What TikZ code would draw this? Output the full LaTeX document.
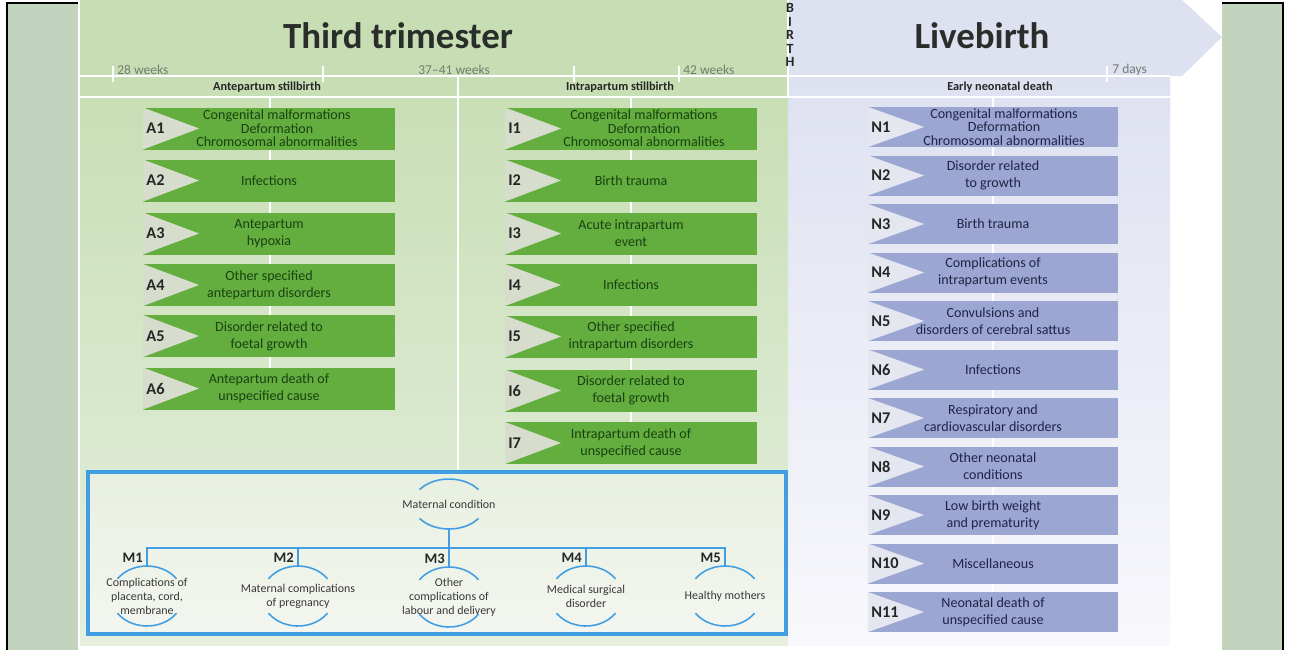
\documentclass[tikz,border=0pt]{standalone}
\usepackage{fontspec}
\setmainfont{Carlito}
\usetikzlibrary{calc}
\definecolor{sidepanel}{RGB}{194,211,190}
\definecolor{greenhead}{RGB}{199,222,180}
\definecolor{greenlow}{RGB}{230,239,222}
\definecolor{lavhead}{RGB}{222,225,240}
\definecolor{lavlow}{RGB}{248,248,252}
\definecolor{boxgreen}{RGB}{99,174,62}
\definecolor{trigreen}{RGB}{214,221,205}
\definecolor{txtgreen}{RGB}{26,66,18}
\definecolor{boxblue}{RGB}{156,166,210}
\definecolor{triblue}{RGB}{228,230,240}
\definecolor{txtblue}{RGB}{32,37,70}
\definecolor{frameblue}{RGB}{66,158,226}
\definecolor{greytxt}{RGB}{115,125,112}
\definecolor{titletxt}{RGB}{42,46,42}
\definecolor{mboxtop}{RGB}{232,240,225}
\definecolor{mboxlow}{RGB}{243,246,240}

% #1 name, #2 kind (g/n), #3 x, #4 y, #5 label, #6 text, #7 leading, #8 text x offset
\newcommand{\causebox}[8]{%
  \node[#2box] (#1) at (#3,#4) {};
  \fill[#2tri] (#1.north west) -- ($(#1.west)+(56,0)$) -- (#1.south west) -- cycle;
  \node[#2text, font=\fontsize{8}{#7}\selectfont] (#1t) at ($(#1.center)+(#8,0)$) {#6};
  \node[boxlab] (#1l) at ($(#1.west)+(3,0)$) {#5};
}
\newcommand{\ovarcs}[3]{%
  \draw[arcline] (#1.center) ++(35:#2 and #3) arc[start angle=35,end angle=145,x radius=#2,y radius=#3];
  \draw[arcline] (#1.center) ++(215:#2 and #3) arc[start angle=215,end angle=325,x radius=#2,y radius=#3];
}

\begin{document}
\begin{tikzpicture}[x=0.02cm,y=-0.02cm,
  gbox/.style={fill=boxgreen, minimum width=5.04cm, minimum height=0.84cm, inner sep=0pt, outer sep=0pt},
  nbox/.style={fill=boxblue, minimum width=5cm, minimum height=0.8cm, inner sep=0pt, outer sep=0pt},
  gtri/.style={fill=trigreen},
  ntri/.style={fill=triblue},
  gtext/.style={text=txtgreen, align=center, inner sep=0pt},
  ntext/.style={text=txtblue, align=center, inner sep=0pt},
  boxlab/.style={anchor=west, font=\bfseries\fontsize{9.3}{10}\selectfont, text=black!85, inner sep=0pt},
  whiteline/.style={draw=white, line width=1.2pt},
  tick/.style={draw=white, line width=1.2pt},
  weeks/.style={anchor=west, text=greytxt, font=\fontsize{7.7}{9}\selectfont, inner sep=0pt},
  colhead/.style={font=\bfseries\fontsize{7}{8}\selectfont, text=black!85, inner sep=0pt},
  bigtitle/.style={font=\bfseries\fontsize{21}{24}\selectfont, text=titletxt, inner sep=0pt},
  mnode/.style={minimum width=1.44cm, minimum height=1.2cm, inner sep=0pt, align=center, font=\fontsize{6.8}{8}\selectfont, text=black!78},
  mlab/.style={anchor=east, font=\bfseries\fontsize{8.3}{9}\selectfont, text=black!85, inner sep=0pt},
  arcline/.style={draw=frameblue, line width=0.9pt},
  tree/.style={draw=frameblue, line width=1.1pt}
]
\useasboundingbox (0,0) rectangle (1290,650);
\fill[white] (0,0) rectangle (1290,650);

% side panels
\fill[sidepanel] (7,3) rectangle (78,650);
\draw[black, line width=0.7pt] (7,650) -- (7,3) -- (78,3);
\fill[sidepanel] (1222,3) rectangle (1283,650);
\draw[black, line width=0.7pt] (1222,3) -- (1283,3) -- (1283,650);

% backgrounds
\fill[greenhead] (80,0) rectangle (788,76);
\shade[top color=greenhead, bottom color=greenlow] (80,76) rectangle (788,645);
\fill[lavhead] (788,0) -- (1182,0) -- (1222,37) -- (1182,76) -- (788,76) -- cycle;
\shade[top color=lavhead, bottom color=lavlow] (788,76) rectangle (1170,645);

% grid lines
\draw[whiteline] (80,76) -- (1170,76);
\draw[whiteline] (80,97) -- (1170,97);
\draw[whiteline] (458,76) -- (458,472);
\draw[whiteline] (788,0) -- (788,97);
\draw[white, line width=0.9pt] (270,97) -- (270,410);
\draw[white, line width=0.9pt] (631,97) -- (631,464);
\draw[white, line width=0.9pt] (993,97) -- (993,631);
\foreach \tx in {113,323,574,679,1107} \draw[tick] (\tx,66) -- (\tx,82);

% titles
\node[bigtitle] (t3) at (398,36) {Third trimester};
\node[bigtitle] (tl) at (982,36) {Livebirth};
\node[font=\bfseries\fontsize{8}{7.65}\selectfont, align=center, inner sep=0pt, text=black!85] (birth) at (790,35) {B\\I\\R\\T\\H};
\node[weeks] (w28) at (117,70) {28 weeks};
\node[weeks] (w37) at (418,70) {37–41 weeks};
\node[weeks] (w42) at (683,70) {42 weeks};
\node[weeks] (d7) at (1112,70) {7 days};
\node[colhead] (hA) at (267,87) {Antepartum stillbirth};
\node[colhead] (hI) at (620,87) {Intrapartum stillbirth};
\node[colhead] (hN) at (1000,87) {Early neonatal death};

% antepartum
\causebox{a1}{g}{269}{128.5}{A1}{Congenital malformations\\Deformation\\Chromosomal abnormalities}{7.6}{8}
\causebox{a2}{g}{269}{180.5}{A2}{Infections}{9.6}{0}
\causebox{a3}{g}{269}{233.5}{A3}{Antepartum\\hypoxia}{9.6}{0}
\causebox{a4}{g}{269}{285}{A4}{Other specified\\antepartum disorders}{9.6}{0}
\causebox{a5}{g}{269}{336}{A5}{Disorder related to\\foetal growth}{9.6}{0}
\causebox{a6}{g}{269}{388.5}{A6}{Antepartum death of\\unspecified cause}{9.6}{0}

% intrapartum
\causebox{i1}{g}{631}{128.5}{I1}{Congenital malformations\\Deformation\\Chromosomal abnormalities}{7.6}{13}
\causebox{i2}{g}{631}{180.5}{I2}{Birth trauma}{9.6}{0}
\causebox{i3}{g}{631}{233.5}{I3}{Acute intrapartum\\event}{9.6}{0}
\causebox{i4}{g}{631}{285}{I4}{Infections}{9.6}{0}
\causebox{i5}{g}{631}{336.5}{I5}{Other specified\\intrapartum disorders}{9.6}{0}
\causebox{i6}{g}{631}{390.5}{I6}{Disorder related to\\foetal growth}{9.6}{0}
\causebox{i7}{g}{631}{443}{I7}{Intrapartum death of\\unspecified cause}{9.6}{0}

% neonatal
\causebox{n1}{n}{993}{127}{N1}{Congenital malformations\\Deformation\\Chromosomal abnormalities}{7.6}{11}
\causebox{n2}{n}{993}{175.5}{N2}{Disorder related\\to growth}{9.6}{0}
\causebox{n3}{n}{993}{224}{N3}{Birth trauma}{9.6}{0}
\causebox{n4}{n}{993}{272.5}{N4}{Complications of\\intrapartum events}{9.6}{0}
\causebox{n5}{n}{993}{321}{N5}{Convulsions and\\disorders of cerebral sattus}{9.6}{0}
\causebox{n6}{n}{993}{369.5}{N6}{Infections}{9.6}{0}
\causebox{n7}{n}{993}{418}{N7}{Respiratory and\\cardiovascular disorders}{9.6}{0}
\causebox{n8}{n}{993}{466.5}{N8}{Other neonatal\\conditions}{9.6}{0}
\causebox{n9}{n}{993}{515}{N9}{Low birth weight\\and prematurity}{9.6}{0}
\causebox{n10}{n}{993}{563.5}{N10}{Miscellaneous}{9.6}{0}
\causebox{n11}{n}{993}{612}{N11}{Neonatal death of\\unspecified cause}{9.6}{0}

% maternal condition box
\shade[top color=mboxtop, bottom color=mboxlow] (88,472) rectangle (786,634);
\draw[frameblue, line width=1.8pt] (88,472) rectangle (786,634);

\node[mnode, minimum height=1cm] (mc) at (449,504) {Maternal condition};
\ovarcs{mc}{0.72cm}{0.5cm}
\coordinate (bus) at (449,548);
\node[mnode] (m1) at (147,596) {Complications of\\placenta, cord,\\membrane};
\node[mnode] (m2) at (298,596) {Maternal complications\\of pregnancy};
\node[mnode] (m3) at (449,597) {Other\\complications of\\labour and delivery};
\node[mnode] (m4) at (586,596) {Medical surgical\\disorder};
\node[mnode] (m5) at (725,596) {Healthy mothers};
\foreach \m in {m1,m2,m3,m4,m5} {\ovarcs{\m}{0.72cm}{0.6cm}}

\draw[tree] (mc.south) -- (m3.north);
\draw[tree] (m1.north) -- (m1.north |- bus) -- (m5.north |- bus) -- (m5.north);
\draw[tree] (m2.north) -- (m2.north |- bus);
\draw[tree] (m4.north) -- (m4.north |- bus);

\node[mlab] (l1) at ($(m1.north)+(-4,-8)$) {M1};
\node[mlab] (l2) at ($(m2.north)+(-4,-8)$) {M2};
\node[mlab] (l3) at ($(m3.north)+(-4,-8)$) {M3};
\node[mlab] (l4) at ($(m4.north)+(-4,-8)$) {M4};
\node[mlab] (l5) at ($(m5.north)+(-4,-8)$) {M5};
\end{tikzpicture}
\end{document}
